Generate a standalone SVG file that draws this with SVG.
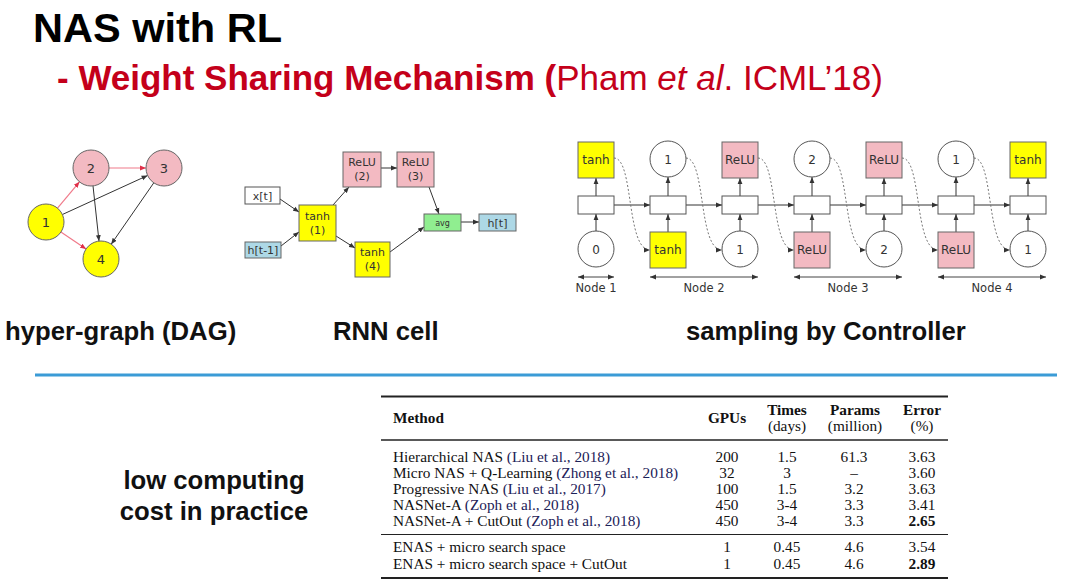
<svg xmlns="http://www.w3.org/2000/svg" width="1080" height="587" viewBox="0 0 1080 587">
<style>
  .title{font-family:"Liberation Sans",Arial,sans-serif;font-weight:bold;fill:#000}
  .sub{font-family:"Liberation Sans",Arial,sans-serif;font-size:35px;fill:#c4001a}
  .lbl{font-family:"Liberation Sans",Arial,sans-serif;font-weight:bold;font-size:25.7px;fill:#111}
  .dv{font-family:"DejaVu Sans",sans-serif;fill:#333;text-anchor:middle}
  .tb{font-family:"Liberation Serif","Times New Roman",serif;font-size:15.3px;fill:#111}
  .cite{fill:#1c2158}
  .c{text-anchor:middle}
  .b{font-weight:bold}
  .yel{fill:#ffff00;stroke:#666;stroke-width:1}
  .pink{fill:#f3bac2;stroke:#666;stroke-width:1}
  .blue{fill:#add8e6;stroke:#666;stroke-width:1}
  .green{fill:#90ee90;stroke:#666;stroke-width:1}
  .wht{fill:#fff;stroke:#555;stroke-width:1}
  .e{stroke:#333;stroke-width:1;fill:none;marker-end:url(#ah)}
  .er{stroke:#f07a8a;stroke-width:1.2;fill:none;marker-end:url(#ahr)}
  .dot{stroke:#777;stroke-width:1;stroke-dasharray:2,2;fill:none;marker-end:url(#ah)}
  .dbl{stroke:#444;stroke-width:1;fill:none;marker-start:url(#ahs);marker-end:url(#ah)}
  .rule{stroke:#222}
</style>
<defs>
  <marker id="ah" viewBox="0 0 10 10" refX="10" refY="5" markerWidth="6" markerHeight="6" markerUnits="userSpaceOnUse" orient="auto"><path d="M0,1 L10,5 L0,9 z" fill="#333"/></marker>
  <marker id="ahs" viewBox="0 0 10 10" refX="10" refY="5" markerWidth="6" markerHeight="6" markerUnits="userSpaceOnUse" orient="auto-start-reverse"><path d="M0,1 L10,5 L0,9 z" fill="#333"/></marker>
  <marker id="ahr" viewBox="0 0 10 10" refX="10" refY="5" markerWidth="6" markerHeight="6" markerUnits="userSpaceOnUse" orient="auto"><path d="M0,1 L10,5 L0,9 z" fill="#e0304a"/></marker>
</defs>
<rect width="1080" height="587" fill="#fff"/>

<!-- titles -->
<text class="title" x="33" y="42" font-size="41.5">NAS with RL</text>
<text class="sub" x="57" y="90"><tspan font-weight="bold">- Weight Sharing Mechanism (</tspan>Pham <tspan font-style="italic">et al</tspan>. ICML’18)</text>

<!-- connectors -->
<g id="connectors">
  <!-- DAG -->
  <line class="er" x1="57.5" y1="208.2" x2="79.5" y2="181.8"/>
  <line class="er" x1="60.9" y1="232" x2="86.1" y2="249"/>
  <line class="er" x1="109" y1="168" x2="146" y2="168"/>
  <line class="e" x1="62.4" y1="214.5" x2="147.6" y2="175.5"/>
  <line class="e" x1="93" y1="185.9" x2="99" y2="241.1"/>
  <line class="e" x1="153.8" y1="182.8" x2="111.2" y2="244.2"/>
  <!-- RNN cell -->
  <line class="e" x1="280" y1="199" x2="299" y2="212"/>
  <line class="e" x1="281" y1="246" x2="299" y2="232"/>
  <line class="e" x1="333" y1="205" x2="349" y2="187"/>
  <line class="e" x1="381" y1="168" x2="397" y2="168"/>
  <line class="e" x1="429" y1="187" x2="439" y2="214"/>
  <line class="e" x1="336" y1="236" x2="355" y2="248"/>
  <line class="e" x1="390" y1="252" x2="424" y2="227"/>
  <line class="e" x1="461" y1="222" x2="479" y2="222"/>
  <!-- controller: horizontal -->
  <line class="e" x1="614" y1="205" x2="650" y2="205"/>
  <line class="e" x1="686" y1="205" x2="722" y2="205"/>
  <line class="e" x1="758" y1="205" x2="794" y2="205"/>
  <line class="e" x1="830" y1="205" x2="866" y2="205"/>
  <line class="e" x1="902" y1="205" x2="938" y2="205"/>
  <line class="e" x1="974" y1="205" x2="1010" y2="205"/>
  <!-- controller: vertical -->
  <line class="e" x1="596" y1="231" x2="596" y2="214"/>
  <line class="e" x1="668" y1="232" x2="668" y2="214"/>
  <line class="e" x1="740" y1="231" x2="740" y2="214"/>
  <line class="e" x1="812" y1="232" x2="812" y2="214"/>
  <line class="e" x1="884" y1="231" x2="884" y2="214"/>
  <line class="e" x1="956" y1="232" x2="956" y2="214"/>
  <line class="e" x1="1028" y1="231" x2="1028" y2="214"/>
  <line class="e" x1="596" y1="196" x2="596" y2="178"/>
  <line class="e" x1="668" y1="196" x2="668" y2="177"/>
  <line class="e" x1="740" y1="196" x2="740" y2="178"/>
  <line class="e" x1="812" y1="196" x2="812" y2="177"/>
  <line class="e" x1="884" y1="196" x2="884" y2="178"/>
  <line class="e" x1="956" y1="196" x2="956" y2="177"/>
  <line class="e" x1="1028" y1="196" x2="1028" y2="178"/>
  <!-- controller: dotted feedback -->
  <path class="dot" d="M614,158 C634,158 626,250 650,250"/>
  <path class="dot" d="M686,158 C706,158 698,250 722,250"/>
  <path class="dot" d="M758,158 C778,158 770,250 794,250"/>
  <path class="dot" d="M830,158 C850,158 842,250 866,250"/>
  <path class="dot" d="M902,158 C922,158 914,250 938,250"/>
  <path class="dot" d="M974,158 C994,158 986,250 1010,250"/>
  <!-- node spans -->
  <line class="dbl" x1="578" y1="277" x2="614" y2="277"/>
  <line class="dbl" x1="650" y1="277" x2="758" y2="277"/>
  <line class="dbl" x1="794" y1="277" x2="902" y2="277"/>
  <line class="dbl" x1="938" y1="277" x2="1046" y2="277"/>
</g>

<!-- DAG nodes -->
<g id="dag1"><circle class="yel" cx="46" cy="222" r="18"/><text class="dv" x="46" y="226.5" font-size="13">1</text></g>
<g id="dag2"><circle class="pink" cx="91" cy="168" r="18"/><text class="dv" x="91" y="172.5" font-size="13">2</text></g>
<g id="dag3"><circle class="pink" cx="164" cy="168" r="18"/><text class="dv" x="164" y="172.5" font-size="13">3</text></g>
<g id="dag4"><circle class="yel" cx="101" cy="259" r="18"/><text class="dv" x="101" y="263.5" font-size="13">4</text></g>

<!-- RNN cell nodes -->
<g id="rnn-xt"><rect class="wht" x="245" y="187" width="35" height="17"/><text class="dv" x="262.5" y="199.5" font-size="11">x[t]</text></g>
<g id="rnn-ht1"><rect class="blue" x="245" y="242" width="36" height="16"/><text class="dv" x="263" y="254" font-size="11">h[t-1]</text></g>
<g id="rnn-tanh1"><rect class="yel" x="299" y="205" width="37" height="36"/><text class="dv" x="317.5" y="220" font-size="11">tanh</text><text class="dv" x="317.5" y="234" font-size="11">(1)</text></g>
<g id="rnn-relu2"><rect class="pink" x="343" y="152" width="38" height="35"/><text class="dv" x="362" y="166" font-size="11">ReLU</text><text class="dv" x="362" y="180" font-size="11">(2)</text></g>
<g id="rnn-relu3"><rect class="pink" x="397" y="152" width="37" height="35"/><text class="dv" x="415.5" y="166" font-size="11">ReLU</text><text class="dv" x="415.5" y="180" font-size="11">(3)</text></g>
<g id="rnn-tanh4"><rect class="yel" x="355" y="242" width="35" height="35"/><text class="dv" x="372.5" y="256" font-size="11">tanh</text><text class="dv" x="372.5" y="270" font-size="11">(4)</text></g>
<g id="rnn-avg"><rect class="green" x="424" y="214" width="37" height="17"/><text class="dv" x="442.5" y="225.5" font-size="8">avg</text></g>
<g id="rnn-ht"><rect class="blue" x="479" y="214" width="37" height="17"/><text class="dv" x="497.5" y="226.5" font-size="11">h[t]</text></g>

<!-- Controller: middle cells -->
<g id="ctrl-cells">
  <rect class="wht" x="578" y="196" width="36" height="18"/>
  <rect class="wht" x="650" y="196" width="36" height="18"/>
  <rect class="wht" x="722" y="196" width="36" height="18"/>
  <rect class="wht" x="794" y="196" width="36" height="18"/>
  <rect class="wht" x="866" y="196" width="36" height="18"/>
  <rect class="wht" x="938" y="196" width="36" height="18"/>
  <rect class="wht" x="1010" y="196" width="36" height="18"/>
</g>
<!-- Controller: top outputs -->
<g id="ctrl-top1"><rect class="yel" x="578" y="142" width="36" height="36"/><text class="dv" x="596" y="164" font-size="12">tanh</text></g>
<g id="ctrl-top2"><circle class="wht" cx="668" cy="159" r="18"/><text class="dv" x="668" y="163.5" font-size="12">1</text></g>
<g id="ctrl-top3"><rect class="pink" x="722" y="142" width="36" height="36"/><text class="dv" x="740" y="164" font-size="12">ReLU</text></g>
<g id="ctrl-top4"><circle class="wht" cx="812" cy="159" r="18"/><text class="dv" x="812" y="163.5" font-size="12">2</text></g>
<g id="ctrl-top5"><rect class="pink" x="866" y="142" width="36" height="36"/><text class="dv" x="884" y="164" font-size="12">ReLU</text></g>
<g id="ctrl-top6"><circle class="wht" cx="956" cy="159" r="18"/><text class="dv" x="956" y="163.5" font-size="12">1</text></g>
<g id="ctrl-top7"><rect class="yel" x="1010" y="142" width="36" height="36"/><text class="dv" x="1028" y="164" font-size="12">tanh</text></g>
<!-- Controller: bottom inputs -->
<g id="ctrl-bot1"><circle class="wht" cx="596" cy="249" r="18"/><text class="dv" x="596" y="253.5" font-size="12">0</text></g>
<g id="ctrl-bot2"><rect class="yel" x="650" y="232" width="36" height="36"/><text class="dv" x="668" y="254" font-size="12">tanh</text></g>
<g id="ctrl-bot3"><circle class="wht" cx="740" cy="249" r="18"/><text class="dv" x="740" y="253.5" font-size="12">1</text></g>
<g id="ctrl-bot4"><rect class="pink" x="794" y="232" width="36" height="36"/><text class="dv" x="812" y="254" font-size="12">ReLU</text></g>
<g id="ctrl-bot5"><circle class="wht" cx="884" cy="249" r="18"/><text class="dv" x="884" y="253.5" font-size="12">2</text></g>
<g id="ctrl-bot6"><rect class="pink" x="938" y="232" width="36" height="36"/><text class="dv" x="956" y="254" font-size="12">ReLU</text></g>
<g id="ctrl-bot7"><circle class="wht" cx="1028" cy="249" r="18"/><text class="dv" x="1028" y="253.5" font-size="12">1</text></g>
<g id="ctrl-labels">
  <text class="dv" x="596" y="292" font-size="11.5">Node 1</text>
  <text class="dv" x="704" y="292" font-size="11.5">Node 2</text>
  <text class="dv" x="848" y="292" font-size="11.5">Node 3</text>
  <text class="dv" x="992" y="292" font-size="11.5">Node 4</text>
</g>

<!-- captions -->
<text class="lbl" x="5" y="340">hyper-graph (DAG)</text>
<text class="lbl" x="333" y="340">RNN cell</text>
<text class="lbl" x="686" y="340">sampling by Controller</text>

<line x1="35" y1="375" x2="1057" y2="375" stroke="#3b9bd6" stroke-width="3"/>

<text class="lbl c" x="214" y="489" font-size="26">low computing</text>
<text class="lbl c" x="214" y="520" font-size="26">cost in practice</text>

<!-- table -->
<g id="table">
  <line class="rule" x1="381" y1="396.5" x2="948" y2="396.5" stroke-width="2"/>
  <line class="rule" x1="381" y1="440" x2="948" y2="440" stroke-width="1.5"/>
  <line class="rule" x1="381" y1="534.5" x2="948" y2="534.5" stroke-width="1.2"/>
  <line class="rule" x1="381" y1="578" x2="948" y2="578" stroke-width="2"/>
  <text class="tb b" x="393" y="423">Method</text>
  <text class="tb b c" x="727" y="423">GPUs</text>
  <text class="tb b c" x="787" y="415">Times</text>
  <text class="tb c" x="787" y="431">(days)</text>
  <text class="tb b c" x="855" y="415">Params</text>
  <text class="tb c" x="855" y="431">(million)</text>
  <text class="tb b c" x="922" y="415">Error</text>
  <text class="tb c" x="922" y="431">(%)</text>

  <text class="tb" x="393" y="462">Hierarchical NAS <tspan class="cite">(Liu et al., 2018)</tspan></text>
  <text class="tb" x="393" y="478">Micro NAS + Q-Learning <tspan class="cite">(Zhong et al., 2018)</tspan></text>
  <text class="tb" x="393" y="494">Progressive NAS <tspan class="cite">(Liu et al., 2017)</tspan></text>
  <text class="tb" x="393" y="510">NASNet-A <tspan class="cite">(Zoph et al., 2018)</tspan></text>
  <text class="tb" x="393" y="526">NASNet-A + CutOut <tspan class="cite">(Zoph et al., 2018)</tspan></text>
  <text class="tb" x="393" y="552">ENAS + micro search space</text>
  <text class="tb" x="393" y="569">ENAS + micro search space + CutOut</text>

  <text class="tb c" x="727" y="462">200</text>
  <text class="tb c" x="727" y="478">32</text>
  <text class="tb c" x="727" y="494">100</text>
  <text class="tb c" x="727" y="510">450</text>
  <text class="tb c" x="727" y="526">450</text>
  <text class="tb c" x="727" y="552">1</text>
  <text class="tb c" x="727" y="569">1</text>

  <text class="tb c" x="787" y="462">1.5</text>
  <text class="tb c" x="787" y="478">3</text>
  <text class="tb c" x="787" y="494">1.5</text>
  <text class="tb c" x="787" y="510">3-4</text>
  <text class="tb c" x="787" y="526">3-4</text>
  <text class="tb c" x="787" y="552">0.45</text>
  <text class="tb c" x="787" y="569">0.45</text>

  <text class="tb c" x="854" y="462">61.3</text>
  <text class="tb c" x="854" y="478">–</text>
  <text class="tb c" x="854" y="494">3.2</text>
  <text class="tb c" x="854" y="510">3.3</text>
  <text class="tb c" x="854" y="526">3.3</text>
  <text class="tb c" x="854" y="552">4.6</text>
  <text class="tb c" x="854" y="569">4.6</text>

  <text class="tb c" x="922" y="462">3.63</text>
  <text class="tb c" x="922" y="478">3.60</text>
  <text class="tb c" x="922" y="494">3.63</text>
  <text class="tb c" x="922" y="510">3.41</text>
  <text class="tb b c" x="922" y="526">2.65</text>
  <text class="tb c" x="922" y="552">3.54</text>
  <text class="tb b c" x="922" y="569">2.89</text>
</g>
</svg>
